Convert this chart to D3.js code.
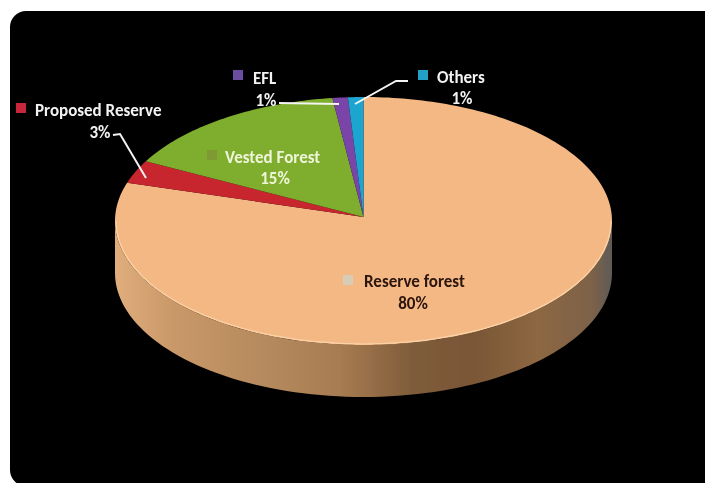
<!DOCTYPE html>
<html><head><meta charset="utf-8">
<script src="https://cdnjs.cloudflare.com/ajax/libs/d3/7.8.5/d3.min.js"></script>
<style>html,body{margin:0;padding:0;background:#fff}svg{display:block}</style>
</head><body><svg id="c" width="705" height="483"></svg>
<script>
const categories = ["Reserve forest","Proposed Reserve","Vested Forest","EFL","Others"];
const values = [80,3,15,1,1];
const colors = ["#f4b884","#c8282e","#7fae2e","#7a45a8","#1fa6cf"];
const swatches = ["#d8cbb8","#c8283a","#7f9a30","#6a4ea0","#22a0c8"];
const textColors = ["#2a1410","#f2f2f2","#eef5d8","#f2f2f2","#f2f2f2"];

const W=705,H=483,cx=363.5,cy=221,rx=248.5,ry=124,depth=52,apexY=217;
const svg=d3.select("#c");
const defs=svg.append("defs");
const soft=defs.append("filter").attr("id","soft").attr("x","-5%").attr("y","-5%").attr("width","110%").attr("height","110%");
soft.append("feGaussianBlur").attr("stdDeviation",0.7);
const g=defs.append("linearGradient").attr("id","side").attr("gradientUnits","userSpaceOnUse")
  .attr("x1",cx-rx).attr("x2",cx+rx).attr("y1",0).attr("y2",0);
[[0,"#e0ad7c"],[0.12,"#c99868"],[0.3,"#b58a5e"],[0.45,"#a87c52"],[0.6,"#7e5c3a"],[0.72,"#7a5636"],[0.85,"#8d6742"],[0.96,"#7d6248"],[1,"#5d5a58"]]
  .forEach(([o,c])=>g.append("stop").attr("offset",o).attr("stop-color",c));
defs.append("clipPath").attr("id","lower").append("rect").attr("x",0).attr("y",cy).attr("width",W).attr("height",H);

svg.append("rect").attr("x",10).attr("y",11).attr("width",720).attr("height",475).attr("rx",16).attr("fill","#000");

const scene=svg.append("g").attr("filter","url(#soft)");
const sx=d3.scaleLinear().domain([-1,1]).range([cx-rx,cx+rx]);
const sy=d3.scaleLinear().domain([-1,1]).range([cy-ry,cy+ry]);
const rim=a=>[sx(Math.sin(a)),sy(-Math.cos(a))];

// side wall: lower half of the ellipse swept down by the depth
const pts=d3.range(90,271,2).map(a=>a*Math.PI/180);
const wall=d3.path();
pts.forEach((a,i)=>{const [x,y]=rim(a);i?wall.lineTo(x,y):wall.moveTo(x,y);});
pts.slice().reverse().forEach(a=>{const [x,y]=rim(a);wall.lineTo(x,y+depth);});
wall.closePath();
scene.append("path").attr("d",wall.toString()).attr("fill","url(#side)");

// top face: wedges from d3.pie angles, with the apex set slightly behind the ellipse centre
const arcs=d3.pie().sort(null).value(d=>d)(values);
const line=d3.line();
const wedge=d=>{
  const n=Math.max(2,Math.ceil((d.endAngle-d.startAngle)/0.02));
  const p=[[cx,apexY]];
  for(let i=0;i<=n;i++)p.push(rim(d.startAngle+(d.endAngle-d.startAngle)*i/n));
  return line(p)+"Z";
};
scene.append("g").selectAll("path").data(arcs).join("path")
  .attr("d",wedge).attr("fill",(d,i)=>colors[i]);
// rim highlight
scene.append("ellipse").attr("cx",cx).attr("cy",cy).attr("rx",rx-1).attr("ry",ry-1)
  .attr("fill","none").attr("stroke","#fbd3a8").attr("stroke-width",1.2)
  .attr("clip-path","url(#lower)");

// leaders
const leaders=[
  {i:1,p:[[113,135],[120,134],[146,178]]},
  {i:3,p:[[279,103],[339,104]]},
  {i:4,p:[[408,81],[396,81],[355,104]]}
];
scene.selectAll(".lead").data(leaders).join("path").attr("class","lead")
  .attr("d",d=>line(d.p)).attr("fill","none").attr("stroke","#f4f4f4").attr("stroke-width",2);

// labels
const labels=[
  {i:0,sx:343,sy:275,tx:364,ty:287,px:413,py:309},
  {i:1,sx:16,sy:103,tx:35,ty:116,px:100,py:138},
  {i:2,sx:207,sy:150,tx:225,ty:163,px:275,py:184},
  {i:3,sx:233,sy:70,tx:253,ty:84,px:266,py:106},
  {i:4,sx:418,sy:70,tx:437,ty:83,px:462,py:104}
];
const font="Carlito, Lato, 'Open Sans', sans-serif";
const fs=17;
labels.forEach(l=>{
  scene.append("rect").attr("x",l.sx).attr("y",l.sy).attr("width",10).attr("height",10).attr("fill",swatches[l.i]);
  scene.append("text").attr("x",l.tx).attr("y",l.ty).text(categories[l.i])
    .attr("font-family",font).attr("font-size",fs).attr("font-weight",600).attr("fill",textColors[l.i]);
  scene.append("text").attr("x",l.px).attr("y",l.py).attr("text-anchor","middle").text(values[l.i]+"%")
    .attr("font-family",font).attr("font-size",fs).attr("font-weight",600).attr("fill",textColors[l.i]);
});
</script></body></html>
